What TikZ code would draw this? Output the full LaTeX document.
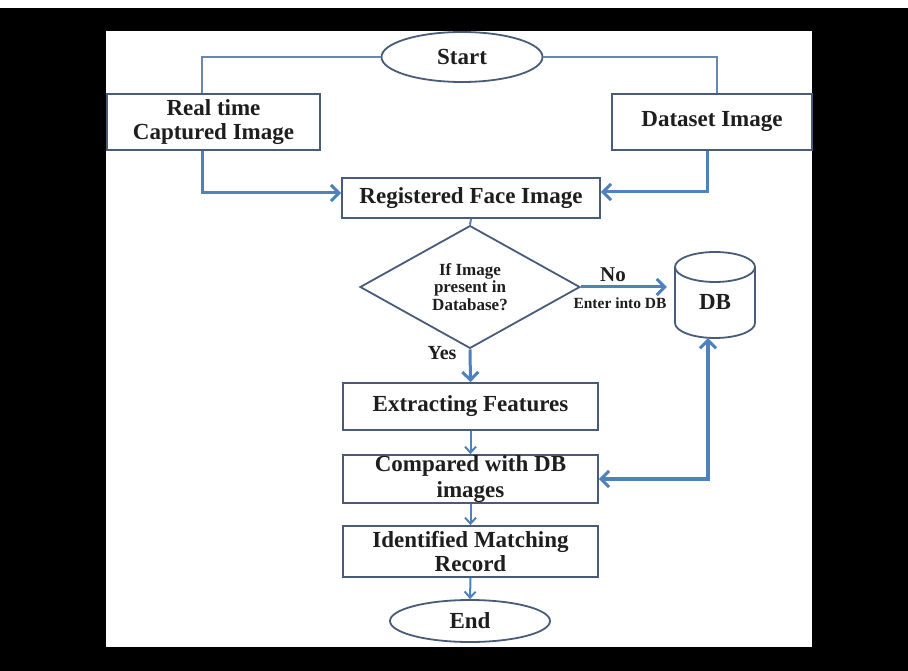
\documentclass[tikz,border=0pt]{standalone}
\usepackage{fontspec}
\setmainfont{Liberation Serif}
\usetikzlibrary{arrows.meta,shapes.geometric}
\definecolor{boxc}{RGB}{72,92,122}
\definecolor{arr}{RGB}{79,129,189}
\definecolor{thinc}{RGB}{105,135,175}
\definecolor{txt}{RGB}{30,30,30}
\begin{document}
\begin{tikzpicture}[x=1pt,y=-1pt,
  box/.style={draw=boxc,line width=1.8pt,fill=white,rectangle,inner sep=0pt,align=center,text=txt,font=\bfseries\fontsize{23}{24}\selectfont},
  term/.style={draw=boxc,line width=1.8pt,fill=white,ellipse,inner sep=0pt,text=txt,font=\bfseries\fontsize{23}{24}\selectfont},
  decision/.style={draw=boxc,line width=1.8pt,fill=white,diamond,inner sep=0pt,align=center,text=txt,font=\bfseries\fontsize{17}{17.5}\selectfont},
  lbl/.style={inner sep=0pt,text=txt,font=\bfseries\fontsize{21}{22}\selectfont},
  link/.style={draw=thinc,line width=1.5pt},
  flow/.style={draw=arr,line width=3pt,-{Straight Barb[length=8pt,width=16pt,line width=3pt]}},
  flowthin/.style={draw=arr,line width=2pt,-{Straight Barb[length=6pt,width=11pt,line width=2pt]}},
  both/.style={draw=arr,line width=3.5pt,{Straight Barb[length=8pt,width=16pt,line width=3pt]}-{Straight Barb[length=8pt,width=16pt,line width=3pt]}}
]
\useasboundingbox (0,0) rectangle (908,671);
\fill[black] (0,0) rectangle (908,671);
\fill[white] (0,0) rectangle (908,8);
\fill[white] (106,31) rectangle (812,647);

% nodes
\node[term, minimum width=161pt, minimum height=50pt] (start) at (462,57) {Start};
\node[box, minimum width=213pt, minimum height=56pt] (rt) at (213.5,122) {Real time\\Captured Image};
\node[box, minimum width=200pt, minimum height=56pt] (ds) at (712,122) {Dataset Image};
\node[box, minimum width=258pt, minimum height=40pt] (reg) at (471,198) {Registered Face Image};
\node[decision, minimum width=220pt, minimum height=110pt] (dia) at (470,287) {If Image\\present in\\Database?};
\node[inner sep=0pt, minimum width=80pt, minimum height=86pt] (db) at (715,295) {};
\node[box, minimum width=255pt, minimum height=47pt] (ext) at (470.5,406.5) {Extracting Features};
\node[box, minimum width=255pt, minimum height=48pt, font=\bfseries\fontsize{23}{26}\selectfont] (cmp) at (470.5,479) {Compared with DB\\images};
\node[box, minimum width=255pt, minimum height=51pt] (idf) at (470.5,551.5) {Identified Matching\\Record};
\node[term, minimum width=160pt, minimum height=42pt] (end) at (470,621) {End};

% cylinder
\draw[boxc, line width=1.8pt, fill=white] (675,267) -- (675,323) arc[start angle=180, end angle=360, x radius=40pt, y radius=15pt] -- (755,267);
\draw[boxc, line width=1.8pt, fill=white] (715,267) ellipse [x radius=40pt, y radius=15pt];
\node[inner sep=0pt, text=txt, font=\bfseries\fontsize{23}{24}\selectfont] (dbl) at (db.center) [yshift=-7pt] {DB};

% labels
\node[lbl] (no) at (613,275) {No};
\node[inner sep=0pt,text=txt,font=\bfseries\fontsize{15.5}{16}\selectfont] (enter) at (620,303) {Enter into DB};
\node[lbl, font=\bfseries\fontsize{20}{21}\selectfont] (yes) at (442,353) {Yes};

% connectors
\draw[link] (start.west) -| ([xshift=-11.5pt]rt.north);
\draw[link] (start.east) -| ([xshift=5pt]ds.north);
\draw[flow] ([xshift=-11.5pt]rt.south) |- ([yshift=5pt]reg.west);
\draw[flow] ([xshift=-5pt]ds.south) |- ([yshift=6pt]reg.east);
\draw[draw=arr, line width=2pt] (reg.south) -- (dia.north);
\draw[flow, shorten >=8pt] (dia.east) -- (db.west |- dia.east);
\draw[flow] (dia.south) -- (ext.north);
\draw[flowthin] (ext.south) -- (cmp.north);
\draw[flowthin] (cmp.south) -- (idf.north);
\draw[flowthin] (idf.south) -- (end.north);
\draw[both] (cmp.east) -| ([xshift=-7pt]db.south);
\end{tikzpicture}
\end{document}
